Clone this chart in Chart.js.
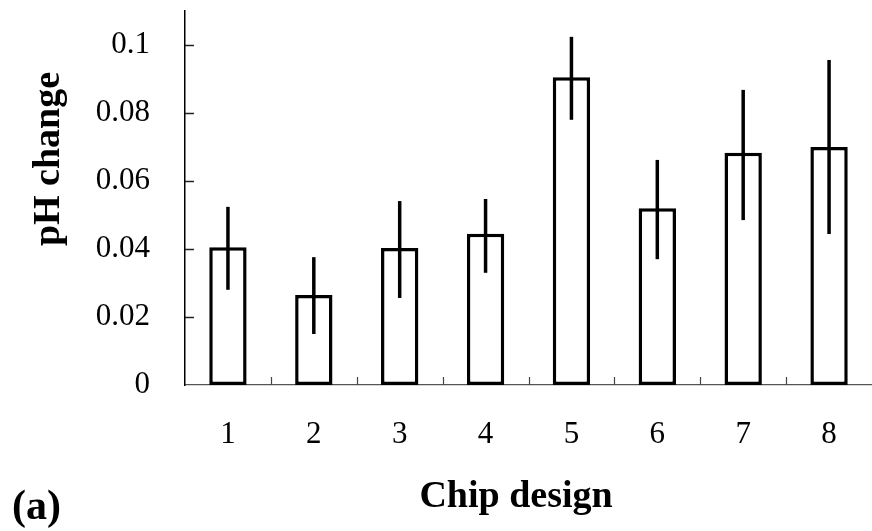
<!DOCTYPE html>
<html>
<head>
<meta charset="utf-8">
<script src="https://cdn.jsdelivr.net/npm/chart.js@4"></script>
<style>
  html, body { margin: 0; padding: 0; background: #fff; }
  #chart { display: block; }
</style>
</head>
<body>
<canvas id="chart" width="872" height="531"></canvas>
<script>
/* ── data ────────────────────────────────────────────────── */

const designs  = ["1", "2", "3", "4", "5", "6", "7", "8"];
const phChange = [0.0405, 0.0265, 0.0403, 0.0445, 0.0905, 0.0520, 0.0683, 0.0700];
const errHigh  = [0.0524, 0.0376, 0.0541, 0.0547, 0.1024, 0.0662, 0.0868, 0.0956];
const errLow   = [0.0280, 0.0150, 0.0256, 0.0330, 0.0780, 0.0370, 0.0485, 0.0444];
const yTicks   = [0, 0.02, 0.04, 0.06, 0.08, 0.1];

/* ── styles ──────────────────────────────────────────────── */

const SERIF = "'Liberation Serif', 'Times New Roman', serif";

/* ── extra drawing: error bars, inward ticks, titles ─────── */

const decorations = {
  id: "decorations",
  afterDatasetsDraw(chart) {
    const { ctx, scales: { x, y } } = chart;
    ctx.save();

    // error bars
    ctx.strokeStyle = "#000";
    ctx.lineWidth = 3.5;
    ctx.lineCap = "butt";
    designs.forEach((d, i) => {
      const px = x.getPixelForValue(i);
      ctx.beginPath();
      ctx.moveTo(px, y.getPixelForValue(errHigh[i]));
      ctx.lineTo(px, y.getPixelForValue(errLow[i]));
      ctx.stroke();
    });

    // inward tick marks on y
    ctx.lineWidth = 1.5;
    ctx.strokeStyle = "#222";
    yTicks.slice(1).forEach(v => {
      const py = Math.round(y.getPixelForValue(v)) + 0.5;
      ctx.beginPath();
      ctx.moveTo(x.left, py);
      ctx.lineTo(x.left + 9, py);
      ctx.stroke();
    });

    // inward tick marks on x, between categories
    ctx.lineWidth = 1.2;
    ctx.strokeStyle = "#444";
    for (let i = 1; i < designs.length; i++) {
      const px = Math.round((x.getPixelForValue(i - 1) + x.getPixelForValue(i)) / 2) + 0.5;
      ctx.beginPath();
      ctx.moveTo(px, y.bottom);
      ctx.lineTo(px, y.bottom - 8);
      ctx.stroke();
    }

    // axis titles and panel label
    ctx.fillStyle = "#000";
    ctx.textBaseline = "alphabetic";
    ctx.textAlign = "center";
    ctx.font = `bold 38px ${SERIF}`;
    ctx.fillText("Chip design", 516, 507);

    ctx.save();
    ctx.translate(59, 159);
    ctx.rotate(-Math.PI / 2);
    ctx.fillText("pH change", 0, 0);
    ctx.restore();

    ctx.textAlign = "left";
    ctx.font = `bold 42px ${SERIF}`;
    ctx.fillText("(a)", 12, 519);

    ctx.restore();
  },
};

/* ── chart ───────────────────────────────────────────────── */

new Chart(document.getElementById("chart"), {
  type: "bar",
  data: {
    labels: designs,
    datasets: [{
      data: phChange,
      backgroundColor: "#fff",
      borderColor: "#000",
      borderWidth: 3.5,
      borderSkipped: false,
      categoryPercentage: 1,
      barPercentage: 0.435,
    }],
  },
  options: {
    responsive: false,
    animation: false,
    layout: { padding: { top: 11, right: 0, left: 0, bottom: 0 } },
    plugins: {
      legend: { display: false },
      tooltip: { enabled: false },
    },
    scales: {
      x: {
        grid: { display: false, drawTicks: false },
        border: { display: true, color: "#555", width: 1.2 },
        ticks: {
          color: "#000",
          padding: 31,
          font: { family: SERIF, size: 31 },
        },
        afterFit(scale) {
          scale.height = 146;
          scale.paddingLeft = 0;
          scale.paddingRight = 0;
        },
      },
      y: {
        min: 0,
        max: 0.11,
        grid: { display: false, drawTicks: false },
        border: { display: true, color: "#000", width: 1.5 },
        afterBuildTicks(scale) { scale.ticks = yTicks.map(v => ({ value: v })); },
        ticks: {
          color: "#000",
          padding: 35,
          font: { family: SERIF, size: 31 },
          callback: v => String(+v.toFixed(3)),
        },
        afterFit(scale) {
          scale.width = 185;
          scale.paddingTop = 0;
          scale.paddingBottom = 0;
        },
      },
    },
  },
  plugins: [decorations],
});
</script>
</body>
</html>
